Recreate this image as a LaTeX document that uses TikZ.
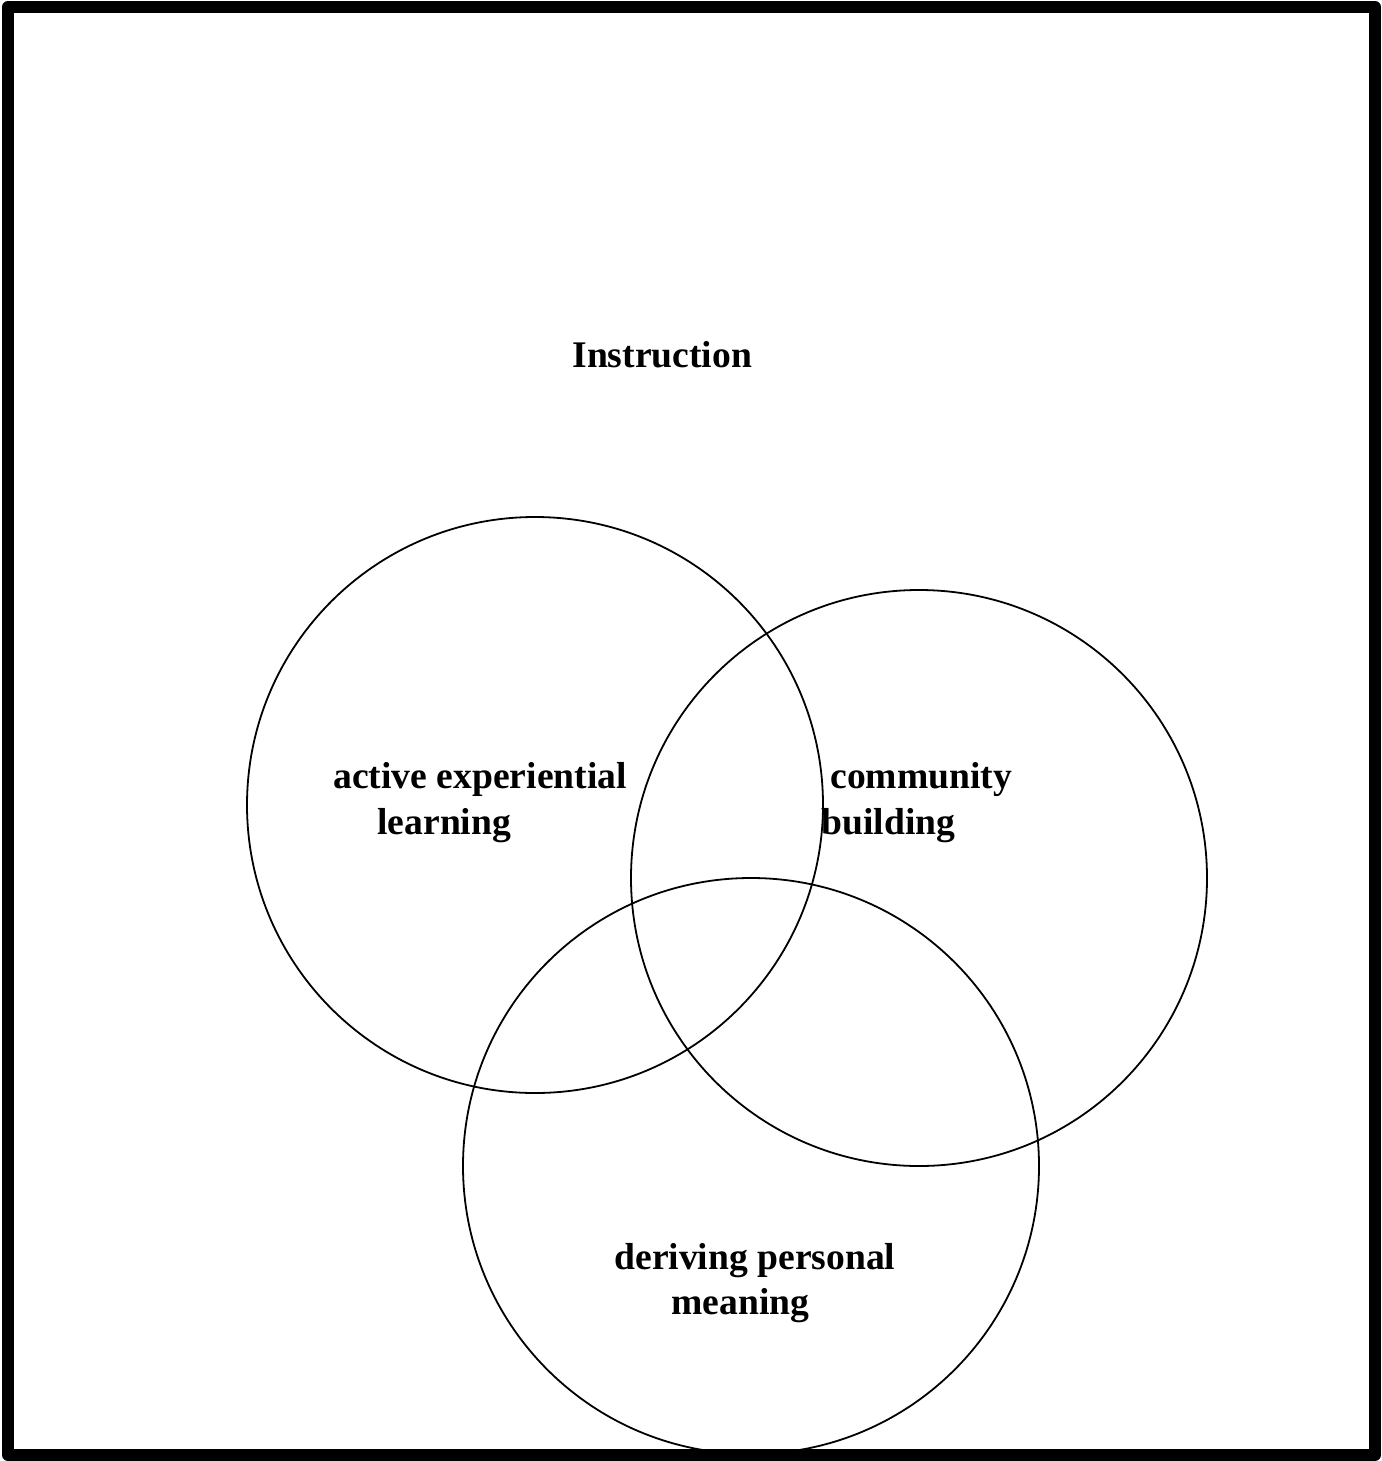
\documentclass[tikz,border=0pt]{standalone}
\usepackage{fontspec}
\setmainfont{Liberation Serif}
\begin{document}
\begin{tikzpicture}[x=0.5pt,y=-0.5pt,
  frame/.style={draw=black,line width=6pt,line join=round},
  venn/.style={draw=black,line width=0.9pt},
  lbl/.style={anchor=base west,inner sep=0pt,font=\fontsize{18.8}{22}\selectfont\bfseries}]
\useasboundingbox (0,0) rectangle (1381,1461);
\fill[white] (0,0) rectangle (1381,1461);
% circles
\node[venn,circle,minimum size=576pt*0.5,inner sep=0pt] (ael) at (535,805) {};
\node[venn,circle,minimum size=576pt*0.5,inner sep=0pt] (cb) at (919,878) {};
\node[venn,circle,minimum size=576pt*0.5,inner sep=0pt] (dpm) at (751,1166) {};
% labels
\node[lbl] (instr) at (572,367) {Instruction};
\node[lbl] (ael1) at (333,788) {active experiential};
\node[lbl] (ael2) at (377,834) {learning};
\node[lbl] (cb1) at (830,788) {community};
\node[lbl] (cb2) at (821,834) {building};
\node[lbl] (dpm1) at (614,1269) {deriving personal};
\node[lbl] (dpm2) at (671,1314) {meaning};
% frame
\draw[frame] (8,7) rectangle (1375,1455);
\end{tikzpicture}
\end{document}
